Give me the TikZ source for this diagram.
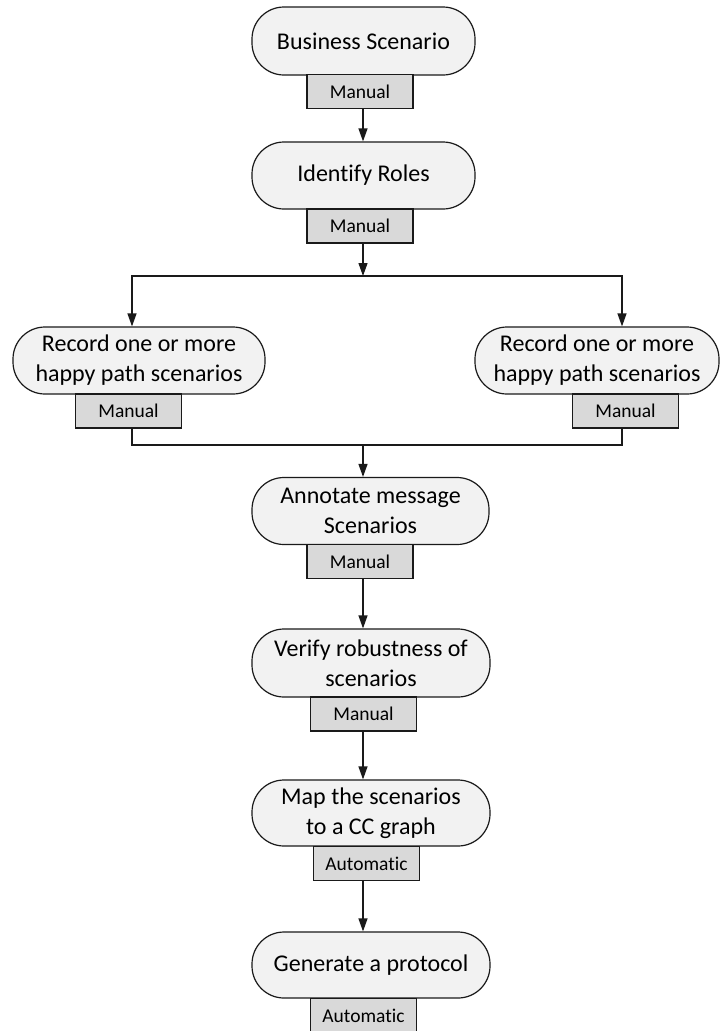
\documentclass[tikz,border=0pt]{standalone}
\usepackage{fontspec}
\setmainfont{Carlito}[Ligatures={NoCommon}]
\usetikzlibrary{arrows.meta}
\definecolor{stagefill}{HTML}{F2F2F2}
\definecolor{tagfill}{HTML}{D9D9D9}
\definecolor{edge}{HTML}{1A1A1A}

\tikzset{
  stage/.style={draw=edge, line width=1.2pt, fill=stagefill, rounded corners=32pt,
    inner sep=0pt, align=center, font=\fontsize{24}{30}\selectfont},
  tag/.style={draw=edge, line width=1.2pt, fill=tagfill, inner sep=0pt,
    minimum width=106pt, minimum height=34pt, font=\fontsize{19.5}{23}\selectfont},
  link/.style={draw=edge, line width=1.2pt},
  arr/.style={link, -{Triangle[length=13pt,width=9pt]}},
}

\begin{document}
\begin{tikzpicture}[x=1pt, y=-1pt]
\path[use as bounding box, clip] (0,0) rectangle (720,1031);
\fill[white] (0,0) rectangle (720,1031);

% process stages
\node[stage, minimum width=223pt, minimum height=68pt] (bs) at (363.5,41) {Business Scenario};
\node[stage, minimum width=223pt, minimum height=67pt] (ir) at (363.5,175.5) {Identify Roles};
\node[stage, minimum width=252pt, minimum height=67pt] (rl) at (139,360.5) {Record one or more\\happy path scenarios};
\node[stage, minimum width=244pt, minimum height=67pt] (rr) at (597,360.5) {Record one or more\\happy path scenarios};
\node[stage, minimum width=237pt, minimum height=67pt] (an) at (370.5,511) {Annotate message\\Scenarios};
\node[stage, minimum width=238pt, minimum height=68pt] (ve) at (371,663) {Verify robustness of\\scenarios};
\node[stage, minimum width=238pt, minimum height=66pt] (mp) at (371,813) {Map the scenarios\\to a CC graph};
\node[stage, minimum width=238pt, minimum height=66pt] (gp) at (371,965) {Generate a protocol};

% manual / automatic tags
\node[tag] (t1) at (360,91.5) {Manual};
\node[tag] (t2) at (360,226) {Manual};
\node[tag] (t3) at (128.5,411) {Manual};
\node[tag] (t4) at (625.5,411) {Manual};
\node[tag] (t5) at (360,561.5) {Manual};
\node[tag] (t6) at (363.5,714) {Manual};
\node[tag] (t7) at (366.5,863.5) {Automatic};
\node[tag] (t8) at (363.5,1015.5) {Automatic};

% routing points
\coordinate (axis) at (363,0);
\coordinate (la) at (132,0);
\coordinate (ra) at (622,0);
\coordinate (split) at (363,276);
\coordinate (merge) at (363,445);

% connectors
\draw[arr] (axis |- t1.south) -- (axis |- ir.north);
\draw[arr] (axis |- t2.south) -- (split);
\draw[arr] (split) -| (la |- rl.north);
\draw[arr] (split) -| (ra |- rr.north);
\draw[link] (la |- t3.south) |- (merge);
\draw[link] (ra |- t4.south) |- (merge);
\draw[arr] (merge) -- (axis |- an.north);
\draw[arr] (axis |- t5.south) -- (axis |- ve.north);
\draw[arr] (axis |- t6.south) -- (axis |- mp.north);
\draw[arr] (axis |- t7.south) -- (axis |- gp.north);
\end{tikzpicture}
\end{document}
